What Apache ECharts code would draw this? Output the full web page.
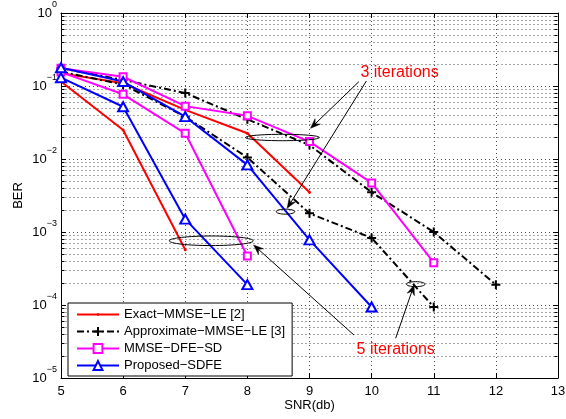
<!DOCTYPE html>
<html>
<head>
<meta charset="utf-8">
<script src="https://cdn.jsdelivr.net/npm/echarts@6/dist/echarts.min.js"></script>
<style>
  html, body { margin: 0; padding: 0; background: #fff; }
  #chart { width: 566px; height: 419px; }
</style>
</head>
<body>
<div id="chart"></div>
<script>
// Legend labels
const nameExact = 'Exact\u2212MMSE\u2212LE [2]';
const nameApprox = 'Approximate\u2212MMSE\u2212LE [3]';
const nameDfe = 'MMSE\u2212DFE\u2212SD';
const nameSdfe = 'Proposed\u2212SDFE';

// BER curves (3 and 5 iterations for each receiver)
const snrExact3 = [5, 6, 7, 8, 9];
const berExact3 = [0.15, 0.109, 0.047, 0.0225, 0.0035];
const snrExact5 = [5, 6, 7];
const berExact5 = [0.115, 0.025, 0.00057];

const snrApprox3 = [5, 6, 7, 8, 9, 10, 11, 12];
const berApprox3 = [0.175, 0.121, 0.08, 0.035, 0.0155, 0.0035, 0.001, 0.00019];
const snrApprox5 = [5, 6, 7, 8, 9, 10, 11];
const berApprox5 = [0.157, 0.105, 0.038, 0.0105, 0.0018, 0.00083, 0.000094];

const snrDfe3 = [5, 6, 7, 8, 9, 10, 11];
const berDfe3 = [0.175, 0.134, 0.053, 0.039, 0.0173, 0.0047, 0.00038];
const snrDfe5 = [5, 6, 7, 8];
const berDfe5 = [0.155, 0.077, 0.0225, 0.00047];

const snrSdfe3 = [5, 6, 7, 8, 9, 10];
const berSdfe3 = [0.178, 0.115, 0.038, 0.0083, 0.00078, 0.000094];
const snrSdfe5 = [5, 6, 7, 8];
const berSdfe5 = [0.13, 0.052, 0.0015, 0.00019];

// Axes
const snrMin = 5, snrMax = 13, snrStep = 1;
const berMin = 1e-5, berMax = 1;
const minorMantissas = [2, 3, 4, 5, 6, 7, 8, 9];
const decades = [-5, -4, -3, -2, -1];

const FONT = "'Liberation Sans', Arial, Helvetica, sans-serif";
const GRID_COLOR = '#4a4a4a';
const GRID_DASH = [1, 3];

const pairs = (xs, ys) => xs.map((x, i) => [x, ys[i]]);

const minorValues = [];
decades.forEach(d => minorMantissas.forEach(m => minorValues.push([snrMin, m * Math.pow(10, d)])));

const chart = echarts.init(document.getElementById('chart'), null, { renderer: 'canvas' });

// '+' marker and a small '.' marker sitting inside a larger (empty) box
const plusSymbol = 'path://M0,5L10,5M5,0L5,10';
const dotSymbol = 'path://M0,0M10,10M5,3.5A1.5,1.5,0,1,1,5,6.5A1.5,1.5,0,1,1,5,3.5Z';

function lineSeries(name, data, color, symbol, size, extra) {
  return Object.assign({
    type: 'line',
    name: name,
    data: data,
    xAxisIndex: 0,
    yAxisIndex: 0,
    symbol: symbol,
    symbolSize: size,
    showAllSymbol: true,
    animation: false,
    z: 3,
    lineStyle: { color: color, width: 2 },
    itemStyle: { color: color, borderColor: color, borderWidth: 1.5 },
    emphasis: { disabled: true }
  }, extra || {});
}

const blackStyle = {
  lineStyle: { color: '#000', width: 2, type: [7, 3, 2, 3] },
  itemStyle: { color: '#000', borderColor: '#000', borderWidth: 2 }
};
const redStyle = {
  itemStyle: { color: '#ff0000', borderColor: '#ff0000', borderWidth: 0 }
};

const supLabel = v => {
  const e = Math.round(Math.log10(v));
  const s = e < 0 ? '\u2212' + (-e) : String(e);
  return '{b|10}{s|' + s + '}';
};

const yAxisBase = {
  type: 'log',
  logBase: 10,
  min: berMin,
  max: berMax,
  interval: 1,
  axisLine: { show: true, onZero: false, lineStyle: { color: '#000', width: 1 } },
  axisTick: { show: true, inside: true, length: 5, lineStyle: { color: '#000', width: 1 } },
  minorTick: { show: false },
  minorSplitLine: { show: false }
};

const xAxisBase = {
  type: 'value',
  min: snrMin,
  max: snrMax,
  interval: snrStep,
  axisLine: { show: true, onZero: false, lineStyle: { color: '#000', width: 1 } },
  axisTick: { show: true, inside: true, length: 5, lineStyle: { color: '#000', width: 1 } }
};

chart.setOption({
  animation: false,
  backgroundColor: '#fff',
  textStyle: { fontFamily: FONT },
  grid: { left: 61, right: 8, top: 13, bottom: 41, containLabel: false, outerBoundsMode: 'none' },
  xAxis: [
    Object.assign({}, xAxisBase, {
      position: 'bottom',
      name: 'SNR(db)',
      nameLocation: 'middle',
      nameGap: 21,
      nameMoveOverlap: false,
      nameTextStyle: { fontSize: 13, color: '#000', fontFamily: FONT },
      axisLabel: { show: true, margin: 7, fontSize: 13, color: '#000', fontFamily: FONT, showMinLabel: true, showMaxLabel: true, hideOverlap: false },
      splitLine: { show: true, lineStyle: { color: GRID_COLOR, width: 1, type: GRID_DASH } }
    }),
    Object.assign({}, xAxisBase, {
      position: 'top',
      axisLabel: { show: false },
      splitLine: { show: false }
    })
  ],
  yAxis: [
    Object.assign({}, yAxisBase, {
      position: 'left',
      name: 'BER',
      nameLocation: 'middle',
      nameGap: 36,
      nameMoveOverlap: false,
      nameTextStyle: { fontSize: 13, color: '#000', fontFamily: FONT },
      axisLabel: {
        show: true, margin: 4, color: '#000', fontFamily: FONT,
        formatter: supLabel,
        rich: {
          b: { fontSize: 13, lineHeight: 25, verticalAlign: 'middle', fontFamily: FONT, color: '#000' },
          s: { fontSize: 9, lineHeight: 9, verticalAlign: 'top', fontFamily: FONT, color: '#000' }
        }
      },
      splitLine: { show: true, lineStyle: { color: GRID_COLOR, width: 1, type: GRID_DASH } }
    }),
    Object.assign({}, yAxisBase, {
      position: 'right',
      axisLabel: { show: false },
      splitLine: { show: false }
    })
  ],
  legend: {
    left: 68,
    top: 303,
    orient: 'vertical',
    padding: [5, 7, 4, 8],
    backgroundColor: '#fff',
    borderColor: '#000',
    borderWidth: 1,
    borderRadius: 0,
    itemWidth: 42,
    itemHeight: 11,
    itemGap: 4,
    selectedMode: false,
    z: 10,
    textStyle: { fontSize: 13, color: '#000', fontFamily: FONT },
    data: [nameExact, nameApprox, nameDfe, nameSdfe]
  },
  series: [
    {
      type: 'custom',
      name: 'minor-grid',
      silent: true,
      z: 1,
      xAxisIndex: 0,
      yAxisIndex: 0,
      data: minorValues,
      clip: false,
      renderItem: function (params, api) {
        const v = api.value(1);
        const l = api.coord([snrMin, v]);
        const r = api.coord([snrMax, v]);
        const y = Math.round(l[1]) + 0.5;
        const x1 = Math.round(l[0]) + 0.5;
        const x2 = Math.round(r[0]) - 0.5;
        return {
          type: 'group',
          children: [
            { type: 'line', shape: { x1: x1, y1: y, x2: x2, y2: y }, style: { stroke: GRID_COLOR, lineWidth: 1, lineDash: GRID_DASH } },
            { type: 'line', shape: { x1: x1, y1: y, x2: x1 + 3, y2: y }, style: { stroke: '#000', lineWidth: 1 } },
            { type: 'line', shape: { x1: x2 - 3, y1: y, x2: x2, y2: y }, style: { stroke: '#000', lineWidth: 1 } }
          ]
        };
      }
    },
    lineSeries(nameExact, pairs(snrExact3, berExact3), '#ff0000', dotSymbol, 10, redStyle),
    lineSeries(nameExact, pairs(snrExact5, berExact5), '#ff0000', dotSymbol, 10, redStyle),
    lineSeries(nameApprox, pairs(snrApprox3, berApprox3), '#000', plusSymbol, 9, blackStyle),
    lineSeries(nameApprox, pairs(snrApprox5, berApprox5), '#000', plusSymbol, 9, blackStyle),
    lineSeries(nameDfe, pairs(snrDfe3, berDfe3), '#ff00ff', 'emptyRect', 7),
    lineSeries(nameDfe, pairs(snrDfe5, berDfe5), '#ff00ff', 'emptyRect', 7),
    lineSeries(nameSdfe, pairs(snrSdfe3, berSdfe3), '#0000ff', 'emptyTriangle', [10, 9]),
    lineSeries(nameSdfe, pairs(snrSdfe5, berSdfe5), '#0000ff', 'emptyTriangle', [10, 9])
  ]
});

// Annotations: ellipses group the 3- and 5-iteration curves, arrows point from the captions
const ellipses = [
  { x: 8.565, y: 0.0197, rx: 37, ry: 3.2 },
  { x: 8.613, y: 0.0019, rx: 9.3, ry: 2.5 },
  { x: 7.419, y: 0.000758, rx: 42, ry: 4.8 },
  { x: 10.71, y: 0.000193, rx: 9.3, ry: 2.5 }
];
const arrows = [
  { from: [9.795, 0.1146], to: [9.016, 0.0263] },
  { from: [9.915, 0.117], to: [8.64, 0.00211] },
  { from: [9.715, 3.88e-5], to: [8.10, 6.64e-4] },
  { from: [10.387, 3.5e-5], to: [10.683, 1.88e-4] }
];
const captions = [
  { text: '3 iterations', at: [9.82, 0.151] },
  { text: '5 iterations', at: [9.758, 2.42e-5] }
];

function toPx(p) {
  return chart.convertToPixel({ xAxisIndex: 0, yAxisIndex: 0 }, p);
}

const graphics = [];
ellipses.forEach(e => {
  const c = toPx([e.x, e.y]);
  graphics.push({
    type: 'ellipse', z: 20, silent: true,
    shape: { cx: c[0], cy: c[1], rx: e.rx, ry: e.ry },
    style: { fill: null, stroke: '#000', lineWidth: 1 }
  });
});
arrows.forEach(a => {
  const s = toPx(a.from), t = toPx(a.to);
  const dx = t[0] - s[0], dy = t[1] - s[1];
  const len = Math.sqrt(dx * dx + dy * dy);
  const ux = dx / len, uy = dy / len;
  const nx = -uy, ny = ux;
  const L = 10, W = 3.8;
  graphics.push({
    type: 'line', z: 20, silent: true,
    shape: { x1: s[0], y1: s[1], x2: t[0] - ux * 6, y2: t[1] - uy * 6 },
    style: { stroke: '#000', lineWidth: 1 }
  });
  graphics.push({
    type: 'polygon', z: 20, silent: true,
    shape: {
      points: [
        [t[0], t[1]],
        [t[0] - ux * L + nx * W, t[1] - uy * L + ny * W],
        [t[0] - ux * L * 0.65, t[1] - uy * L * 0.65],
        [t[0] - ux * L - nx * W, t[1] - uy * L - ny * W]
      ]
    },
    style: { fill: '#000', stroke: '#000', lineWidth: 0.5 }
  });
});
captions.forEach(c => {
  const p = toPx(c.at);
  graphics.push({
    type: 'text', z: 20, silent: true,
    x: p[0], y: p[1],
    style: { text: c.text, fill: '#ff0000', font: '16px ' + FONT, textAlign: 'left', textVerticalAlign: 'middle' }
  });
});
chart.setOption({ graphic: graphics });
</script>
</body>
</html>
